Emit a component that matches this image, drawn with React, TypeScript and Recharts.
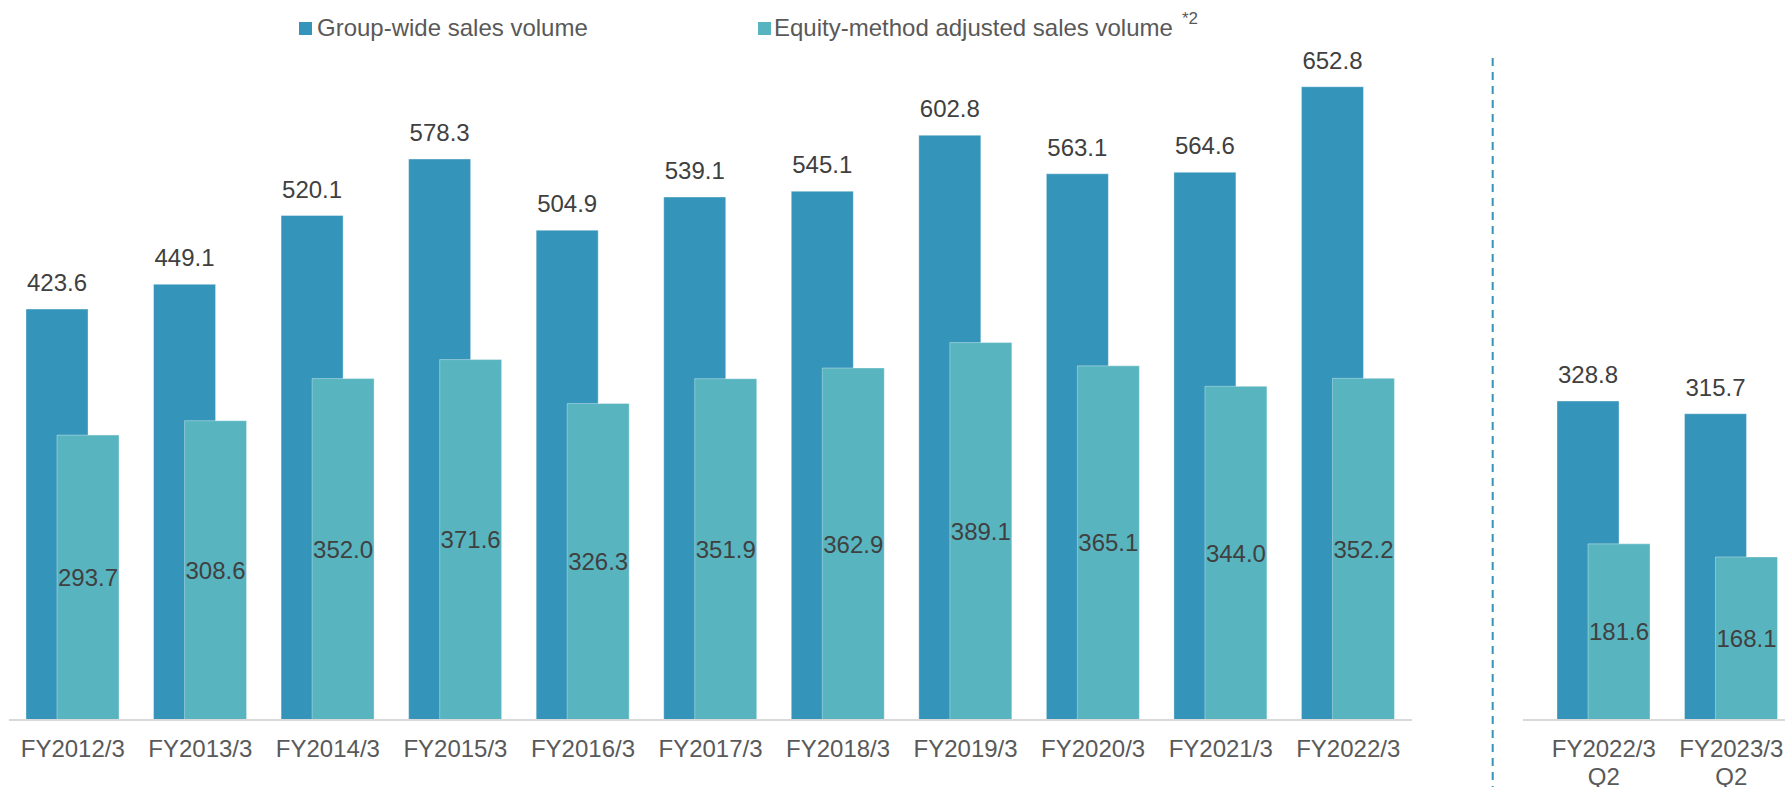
import { BarChart, Bar, XAxis, YAxis, LabelList } from "recharts";

const years = [
  "FY2012/3",
  "FY2013/3",
  "FY2014/3",
  "FY2015/3",
  "FY2016/3",
  "FY2017/3",
  "FY2018/3",
  "FY2019/3",
  "FY2020/3",
  "FY2021/3",
  "FY2022/3",
];
const groupWide = [423.6, 449.1, 520.1, 578.3, 504.9, 539.1, 545.1, 602.8, 563.1, 564.6, 652.8];
const equityAdjusted = [293.7, 308.6, 352.0, 371.6, 326.3, 351.9, 362.9, 389.1, 365.1, 344.0, 352.2];

const halves = ["FY2022/3\nQ2", "FY2023/3\nQ2"];
const groupWideHalf = [328.8, 315.7];
const equityAdjustedHalf = [181.6, 168.1];

const yDomain = [0, 700];

const DARK = "#3494ba";
const LIGHT = "#58b5c0";
const FONT = "'Liberation Sans', Arial, sans-serif";

const annual = years.map((name, i) => ({ name, group: groupWide[i], equity: equityAdjusted[i] }));
const half = halves.map((name, i) => ({ name, group: groupWideHalf[i], equity: equityAdjustedHalf[i] }));

const fmt = (v: any) => Number(v).toFixed(1);

function CategoryTick({ x, y, payload }: any) {
  const lines = String(payload.value).split("\n");
  return (
    <g transform={`translate(${x},${y})`}>
      <text textAnchor="middle" fill="#595959" fontSize={24} fontFamily={FONT}>
        {lines.map((l, i) => (
          <tspan key={i} x={0} dy={i === 0 ? 37 : 28}>
            {l}
          </tspan>
        ))}
      </text>
    </g>
  );
}

function Panel({ data, width, margin, padLeft }: any) {
  return (
    <BarChart
      width={width}
      height={787}
      data={data}
      margin={margin}
      barGap={-31}
      barSize={62}
    >
      <XAxis
        dataKey="name"
        height={67}
        tickLine={false}
        tickSize={0}
        tickMargin={0}
        interval={0}
        axisLine={{ stroke: "#d9d9d9", strokeWidth: 2 }}
        tick={<CategoryTick />}
        padding={{ left: padLeft, right: 0 }}
      />
      <YAxis hide domain={yDomain} />
      <Bar dataKey="group" fill={DARK} stroke="rgba(255,255,255,0.35)" strokeWidth={1} isAnimationActive={false}>
        <LabelList
          dataKey="group"
          position="top"
          offset={18}
          formatter={fmt}
          fill="#404040"
          fontSize={24}
          fontFamily={FONT}
        />
      </Bar>
      <Bar dataKey="equity" fill={LIGHT} stroke="rgba(255,255,255,0.35)" strokeWidth={1} isAnimationActive={false}>
        <LabelList
          dataKey="equity"
          position="center"
          formatter={fmt}
          fill="#404040"
          fontSize={24}
          fontFamily={FONT}
        />
      </Bar>
    </BarChart>
  );
}

export default function App() {
  return (
    <div
      style={{
        position: "absolute",
        left: 0,
        top: 0,
        width: 1785,
        height: 787,
        overflow: "hidden",
        background: "#fff",
        fontFamily: FONT,
      }}
    >
      <div style={{ position: "absolute", left: 0, top: 0 }}>
        <Panel data={annual} width={1420} margin={{ top: 41, right: 8, left: 9, bottom: 0 }} padLeft={0} />
      </div>
      <div style={{ position: "absolute", left: 1515, top: 0 }}>
        <Panel data={half} width={290} margin={{ top: 41, right: 10, left: 8, bottom: 0 }} padLeft={17} />
      </div>
      <svg
        width={1785}
        height={787}
        style={{ position: "absolute", left: 0, top: 0, pointerEvents: "none" }}
      >
        <line x1={1492.7} y1={58} x2={1492.7} y2={787} stroke={DARK} strokeWidth={2} strokeDasharray="8 6" />
        <rect x={299} y={22} width={13} height={13} fill={DARK} />
        <text x={317} y={35.7} fontSize={24} fill="#595959" fontFamily={FONT}>
          Group-wide sales volume
        </text>
        <rect x={758} y={22} width={13} height={13} fill={LIGHT} />
        <text x={774} y={35.7} fontSize={24} fill="#595959" fontFamily={FONT}>
          Equity-method adjusted sales volume
          <tspan dx={9} dy={-12} fontSize={17}>
            *2
          </tspan>
        </text>
      </svg>
    </div>
  );
}
